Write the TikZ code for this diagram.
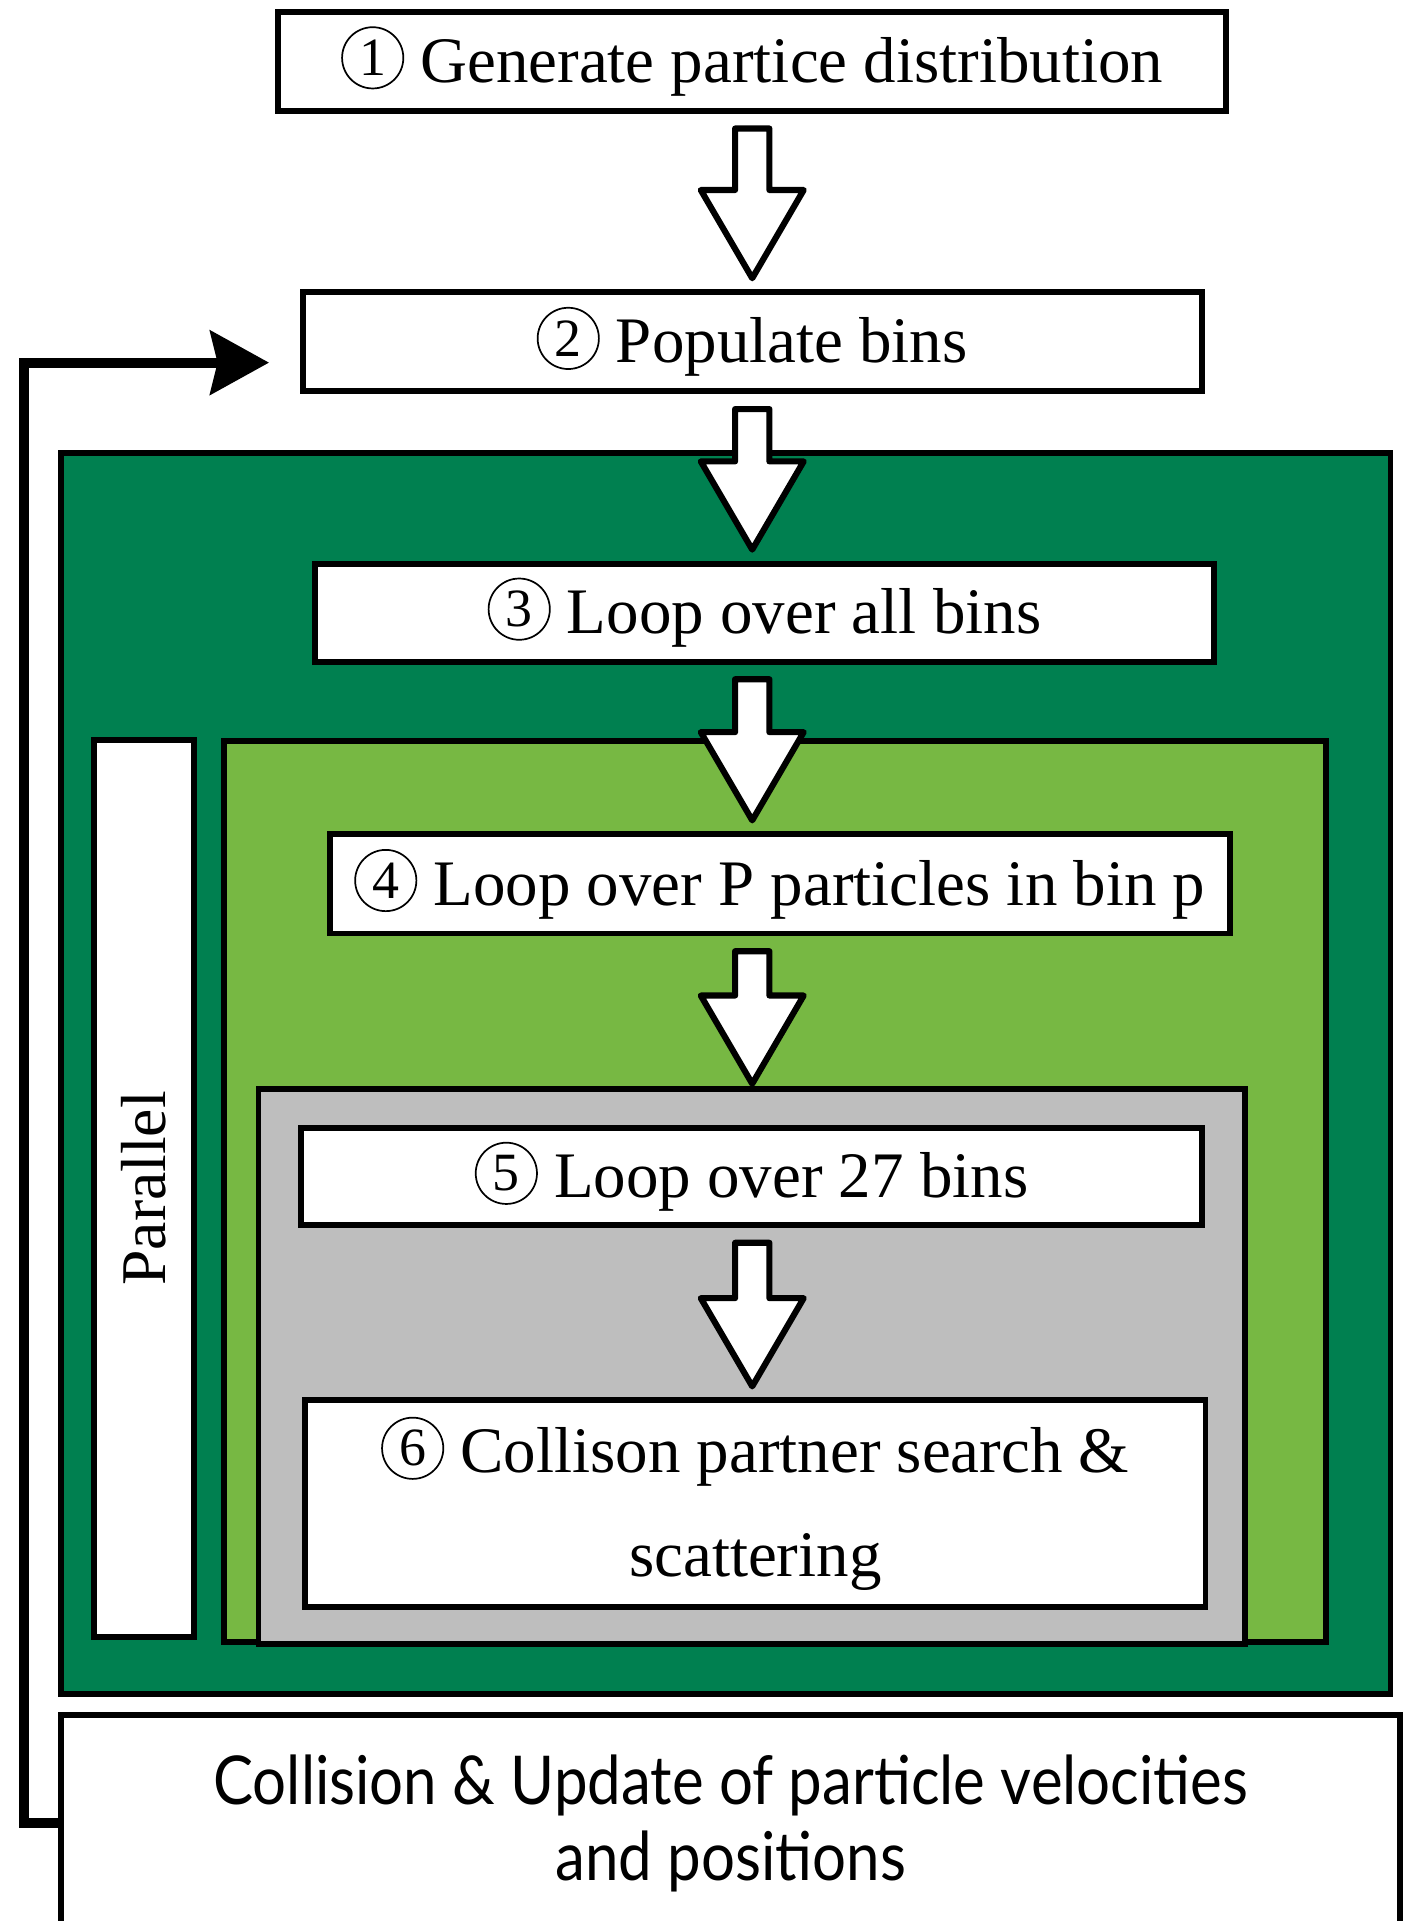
\documentclass[tikz,border=0pt]{standalone}
\usepackage{fontspec}
\setmainfont{Liberation Serif}
\newfontfamily\gillfont[FakeStretch=0.89]{Lato}
\usetikzlibrary{arrows.meta,calc}
\definecolor{binGreen}{RGB}{0,128,80}
\definecolor{partGreen}{RGB}{119,184,67}
\definecolor{nbrGray}{RGB}{190,190,190}

% circled step number
\newcommand{\cnum}[1]{\tikz[baseline=-20pt,x=1pt,y=1pt]\node[circle,draw=black,fill=white,
  line width=1.4pt,minimum size=50pt,inner sep=0pt,font=\fontsize{44}{44}\selectfont]{#1};}

% big hollow arrow between two boxes, optional gap above the target
\newcommand{\flowarrow}[3][9]{%
  \path ($(#2.south -| axis)+(0,12)$) coordinate (fa)
        ($(#3.north -| axis)+(0,-#1)$) coordinate (fb);
  \draw[hollow] ($(fa)+(-14,0)$) -- ($(fb)+(-14,-72)$) -- ($(fb)+(-42,-72)$) -- (fb)
    -- ($(fb)+(42,-72)$) -- ($(fb)+(14,-72)$) -- ($(fa)+(14,0)$) -- cycle;}

\begin{document}
\begin{tikzpicture}[x=1pt,y=-1pt,
    stepbox/.style={draw,line width=4.8pt,fill=white,inner sep=0pt,minimum width=734pt,
                    minimum height=81pt,align=center,font=\fontsize{53}{85}\selectfont},
    region/.style={draw,line width=4.8pt,inner sep=0pt},
    hollow/.style={draw,line width=5pt,fill=white,line join=round},
    loopback/.style={line width=8pt,-{Stealth[length=48pt,width=52pt,inset=6pt]}}]
  \useasboundingbox (0,0) rectangle (1150,1568);
  \coordinate (axis) at (614,0);

  % nested regions
  \node[region,fill=binGreen,minimum width=1085pt,minimum height=1013pt] (bins) at (592.5,876.5) {};
  \node[region,fill=white,rotate=90,minimum width=732pt,minimum height=81pt,
        font=\fontsize{52}{52}\selectfont] (par) at (117.5,970) {Parallel};
  \node[region,fill=partGreen,minimum width=899pt,minimum height=735pt] (parts) at (632.5,972.5) {};
  \node[region,fill=nbrGray,minimum width=805pt,minimum height=453pt] (nbrs) at (613.5,1115.5) {};

  % steps
  \node[stepbox,minimum width=774pt] (gen) at (614,50) {\cnum{1} Generate partice distribution};
  \node[stepbox] (pop) at (614,279) {\cnum{2} Populate bins};
  \node[stepbox,minimum height=80pt] (lbin) at (624,500) {\cnum{3} Loop over all bins};
  \node[stepbox,minimum width=735pt] (lpart) at (636.5,721.5) {\cnum{4} Loop over P particles in bin p};
  \node[stepbox,minimum width=735pt,minimum height=79pt] (lnbr) at (613.5,960.5) {\cnum{5} Loop over 27 bins};
  \node[stepbox,minimum width=735pt,minimum height=169pt] (scat) at (616.5,1227.5)
    {\cnum{6} Collison partner search \&\\ scattering};
  \node[stepbox,minimum width=1093pt,minimum height=176pt,font=\gillfont\fontsize{55}{62}\selectfont]
    (upd) at (596.5,1488) {Collision \& Update of particle velocities\\ and positions};

  % flow
  \flowarrow{gen}{pop}
  \flowarrow{pop}{lbin}
  \flowarrow{lbin}{lpart}
  \flowarrow[2]{lpart}{nbrs}
  \flowarrow{lnbr}{scat}
  \draw[loopback] (upd.west) -- ++(-28,0) |- ($(pop.west)+(-25,17)$);
\end{tikzpicture}
\end{document}
